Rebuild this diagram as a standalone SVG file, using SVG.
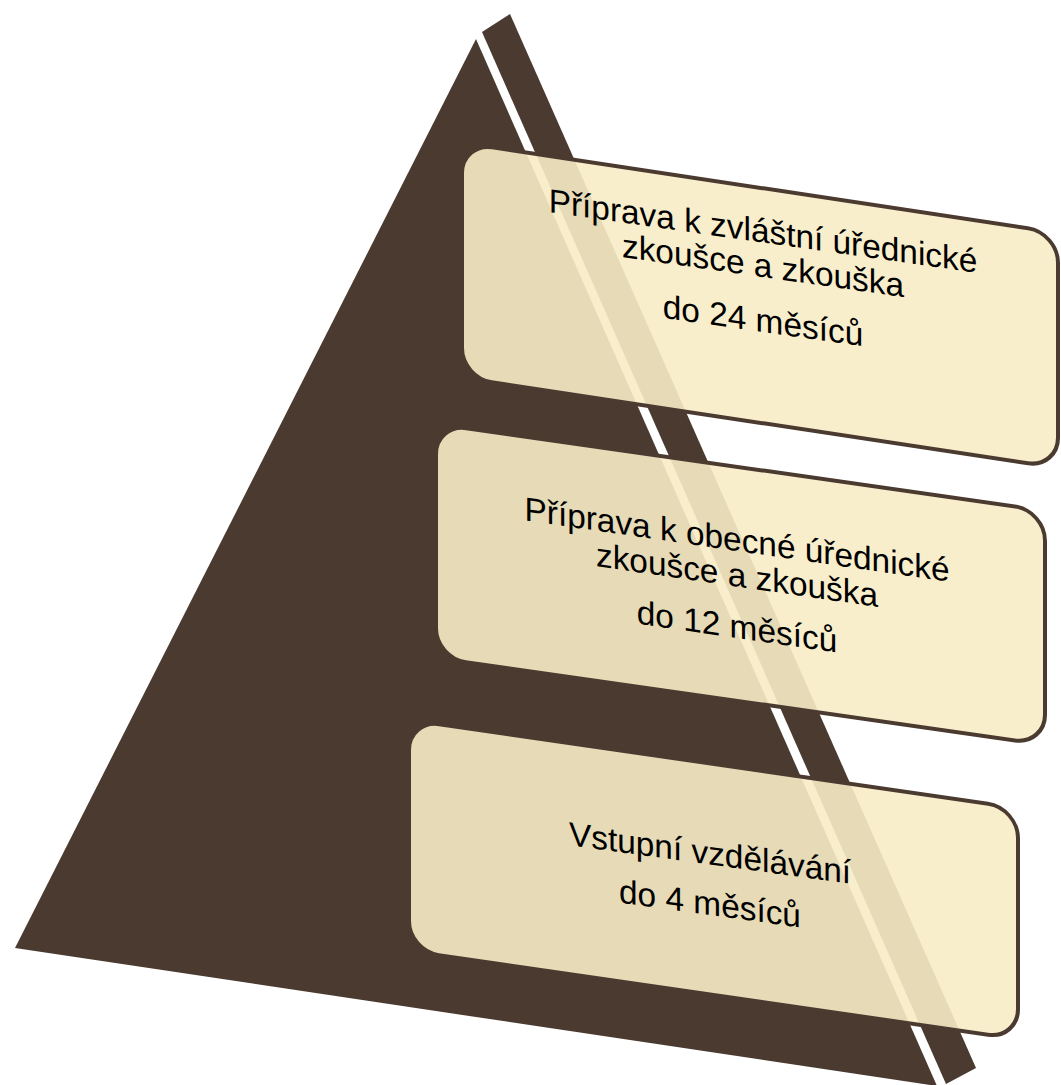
<svg xmlns="http://www.w3.org/2000/svg" width="1061" height="1085" viewBox="0 0 1061 1085">
<style>
.pyr{fill:#4A3A2F}
.box rect{fill:#F7ECC6;fill-opacity:0.9;stroke:#4A3A2F;stroke-width:4}
.lbl{font-family:"Liberation Sans",Arial,sans-serif;font-size:33.4px;fill:#000;text-anchor:middle}
</style>
<rect width="1061" height="1085" fill="#fff"/>
<g id="pyramid">
<polygon class="pyr" points="476,39 15,948 937,1086"/>
<polygon class="pyr" points="482,32 510,14 976,1068 946,1084"/>
</g>
<g id="box1" class="box">
<rect transform="matrix(1,0.151,0,1,460,140.5)" x="2" y="2" width="596" height="235" rx="30" ry="30"/>
<text class="lbl" transform="translate(763,242.4) skewY(8.08)">Příprava k zvláštní úřednické</text>
<text class="lbl" transform="translate(763,277) skewY(8.08)">zkoušce a zkouška</text>
<text class="lbl" transform="translate(763,332) skewY(8.08)">do 24 měsíců</text>
</g>
<g id="box2" class="box">
<rect transform="matrix(1,0.1426,0,1,434,421.6)" x="2" y="2" width="609" height="234" rx="30" ry="30"/>
<text class="lbl" transform="translate(737,551) skewY(8.25)">Příprava k obecné úřednické</text>
<text class="lbl" transform="translate(737,586.5) skewY(8.25)">zkoušce a zkouška</text>
<text class="lbl" transform="translate(737,638) skewY(8.25)">do 12 měsíců</text>
</g>
<g id="box3" class="box">
<rect transform="matrix(1,0.145,0,1,407,717.5)" x="2" y="2" width="609" height="231" rx="30" ry="30"/>
<text class="lbl" transform="translate(710,864.5) skewY(7.8)">Vstupní vzdělávání</text>
<text class="lbl" transform="translate(710,915) skewY(7.8)">do 4 měsíců</text>
</g>
</svg>
